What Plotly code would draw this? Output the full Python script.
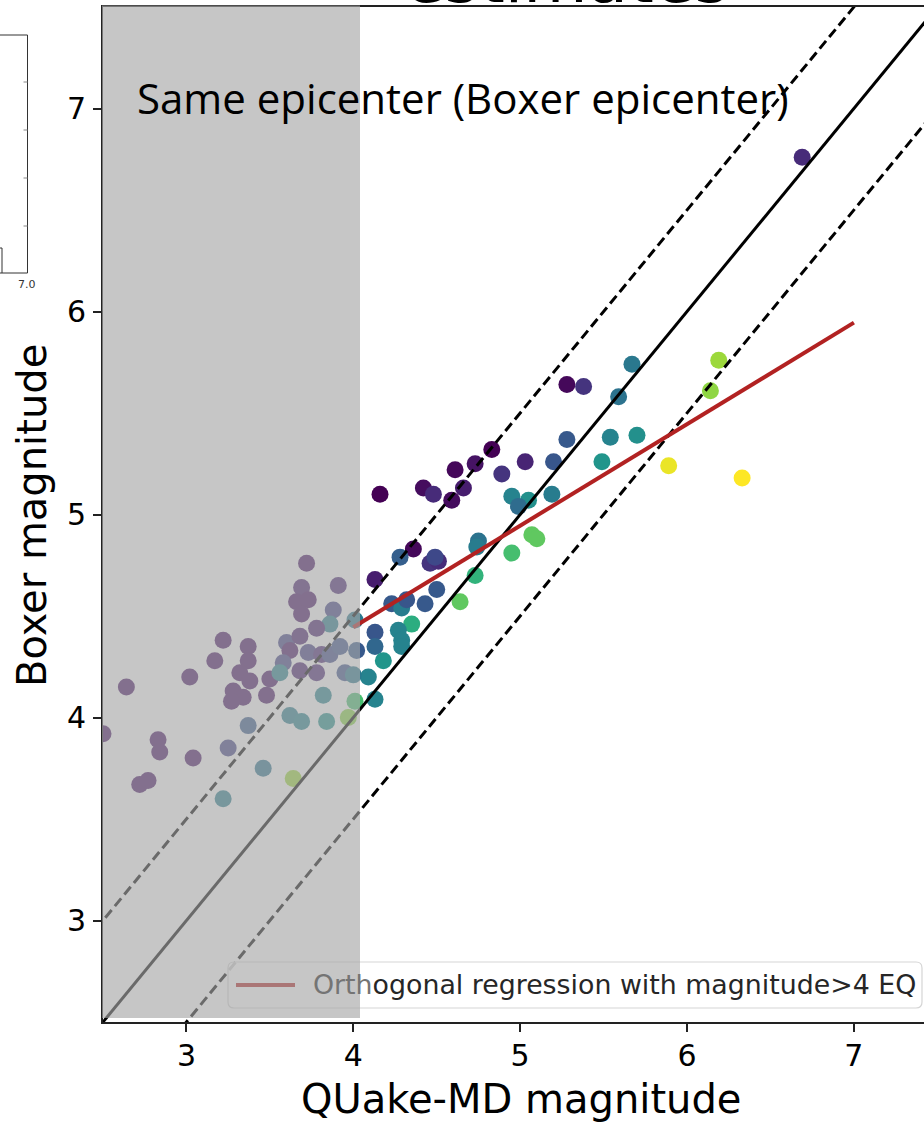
import plotly.graph_objects as go

# ---------------- data ----------------
quake_md = [
    5.67, 5.28, 5.38, 6.19, 5.59, 6.14, 5.28, 5.54, 5.70, 4.83, 4.73, 4.61, 5.03, 4.89,
    5.20, 5.49, 5.89, 6.33, 4.16, 4.42, 4.48, 4.66, 4.59, 4.95, 5.05, 4.99, 5.19, 5.07,
    5.10, 4.95, 4.75, 4.74, 4.36, 4.28, 4.46, 4.51, 4.49, 4.13, 4.73, 4.50, 4.64, 4.23,
    4.29, 4.32, 4.43, 4.35, 4.13, 4.27, 4.29, 4.29, 4.13, 4.18, 4.09, 4.13, 4.01, 6.69,
    3.72, 3.69, 3.91, 3.66, 3.73, 3.69, 3.88, 3.86, 3.78, 3.22, 3.37, 3.60, 3.68, 3.62,
    3.17, 3.37, 3.73, 3.81, 3.86, 3.92, 4.02, 3.58, 3.02, 3.32, 3.38, 3.50, 3.56, 3.68,
    3.78, 3.95, 4.00, 2.64, 3.28, 3.34, 3.27, 3.48, 3.82, 4.01, 3.62, 3.69, 3.84, 3.97,
    3.37, 2.50, 2.83, 2.84, 3.04, 3.25, 2.72, 2.77, 3.46, 3.64, 3.22,
]
boxer = [
    5.74, 5.64, 5.63, 5.76, 5.58, 5.61, 5.37, 5.38, 5.39, 5.32, 5.25, 5.22, 5.26, 5.20,
    5.26, 5.26, 5.24, 5.18, 5.10, 5.13, 5.10, 5.13, 5.07, 5.09, 5.07, 5.04, 5.10, 4.90,
    4.88, 4.81, 4.87, 4.84, 4.83, 4.79, 4.76, 4.77, 4.79, 4.68, 4.70, 4.63, 4.57, 4.56,
    4.54, 4.58, 4.56, 4.46, 4.42, 4.43, 4.38, 4.35, 4.35, 4.28, 4.20, 4.09, 4.48, 6.76,
    4.76, 4.64, 4.65, 4.57, 4.58, 4.51, 4.53, 4.46, 4.44, 4.38, 4.35, 4.37, 4.40, 4.33,
    4.28, 4.28, 4.32, 4.31, 4.31, 4.35, 4.33, 4.27, 4.20, 4.22, 4.18, 4.19, 4.22, 4.23,
    4.22, 4.22, 4.21, 4.15, 4.13, 4.10, 4.08, 4.11, 4.11, 4.08, 4.01, 3.98, 3.98, 4.00,
    3.96, 3.92, 3.89, 3.83, 3.80, 3.85, 3.67, 3.69, 3.75, 3.70, 3.60,
]
colour_val = [
    0.40, 0.02, 0.15, 0.85, 0.38, 0.83, 0.28, 0.45, 0.50, 0.00, 0.05, 0.02, 0.10, 0.15,
    0.27, 0.52, 0.97, 1.00, 0.00, 0.03, 0.12, 0.08, 0.03, 0.45, 0.50, 0.35, 0.42, 0.75,
    0.75, 0.70, 0.38, 0.42, 0.02, 0.30, 0.15, 0.12, 0.22, 0.08, 0.65, 0.28, 0.75, 0.28,
    0.42, 0.27, 0.28, 0.62, 0.27, 0.45, 0.45, 0.45, 0.33, 0.52, 0.45, 0.45, 0.40, 0.12,
    0.05, 0.08, 0.10, 0.05, 0.05, 0.05, 0.20, 0.42, 0.08, 0.05, 0.05, 0.20, 0.08, 0.05,
    0.05, 0.05, 0.18, 0.10, 0.22, 0.25, 0.28, 0.20, 0.05, 0.05, 0.05, 0.05, 0.45, 0.08,
    0.10, 0.25, 0.40, 0.05, 0.05, 0.05, 0.05, 0.05, 0.45, 0.70, 0.42, 0.45, 0.50, 0.82,
    0.28, 0.05, 0.05, 0.05, 0.05, 0.20, 0.05, 0.05, 0.38, 0.85, 0.42,
]

ref_x = [2.0, 8.0]             # 1:1 line and +/-0.5 bands
band_offsets = [0.5, -0.5]
regression_x = [4.0, 7.0]      # orthogonal regression (M > 4)
regression_y = [4.445, 5.945]

x_ticks = [3, 4, 5, 6, 7]
y_ticks = [3, 4, 5, 6, 7]
x_range = [2.5, 7.42]
y_range = [2.5, 7.5]

legend_label = "Orthogonal regression with magnitude>4 EQ"
x_title = "QUake-MD magnitude"
y_title = "Boxer magnitude"
panel_text = "Same epicenter (Boxer epicenter)"
title_text = "estimates"

# ---------------- layout helpers (pixel -> paper) ----------------
W, H = 924, 1124
L, R, T, B = 103, 0, 7, 102
PW, PH = W - L - R, H - T - B


def px(x):
    return (x - L) / PW


def py(y):
    return (H - B - y) / PH


FONT = "DejaVu Sans"
fig = go.Figure()

fig.add_trace(go.Scatter(
    x=quake_md, y=boxer, mode="markers", showlegend=False,
    marker=dict(size=17, color=colour_val, colorscale="Viridis", cmin=0, cmax=1,
                line=dict(width=0), opacity=1),
))

# reference lines
fig.add_trace(go.Scatter(x=ref_x, y=ref_x, mode="lines", showlegend=False,
                         line=dict(color="black", width=3)))
for off in band_offsets:
    fig.add_trace(go.Scatter(x=ref_x, y=[v + off for v in ref_x], mode="lines",
                             showlegend=False,
                             line=dict(color="black", width=3, dash="10px,5px")))

fig.add_trace(go.Scatter(x=regression_x, y=regression_y, mode="lines",
                         name=legend_label, showlegend=False,
                         line=dict(color="#b22222", width=4)))

shapes = []
# custom legend box (rounded) — drawn before the grey overlay so it gets covered
lx0, lx1, ly0, ly1, r = 228, 922, 962, 1008, 6
rx, ry = r / PW, r / PH
X0, X1, Y0, Y1 = px(lx0), px(lx1), py(ly1), py(ly0)
path = (f"M {X0+rx},{Y0} L {X1-rx},{Y0} Q {X1},{Y0} {X1},{Y0+ry} "
        f"L {X1},{Y1-ry} Q {X1},{Y1} {X1-rx},{Y1} L {X0+rx},{Y1} "
        f"Q {X0},{Y1} {X0},{Y1-ry} L {X0},{Y0+ry} Q {X0},{Y0} {X0+rx},{Y0} Z")
shapes.append(dict(type="path", path=path, xref="paper", yref="paper", layer="above",
                   fillcolor="rgba(255,255,255,0.8)", line=dict(color="#d5d5d5", width=1.2)))
shapes.append(dict(type="line", xref="paper", yref="paper", layer="above",
                   x0=px(236), x1=px(295), y0=py(985), y1=py(985),
                   line=dict(color="#b22222", width=4)))

# grey translucent overlay (covers spines, points, lines and legend)
shapes.append(dict(type="rect", xref="paper", yref="paper", layer="above",
                   x0=px(102), x1=px(360), y0=py(1018), y1=py(5.5),
                   fillcolor="rgba(166,166,166,0.64)", line=dict(width=0)))

# fragment of the neighbouring panel at the left
frag = dict(color="#333333", width=1)
shapes += [
    dict(type="line", xref="paper", yref="paper", x0=px(-2), x1=px(27.5), y0=py(35), y1=py(35), line=frag),
    dict(type="line", xref="paper", yref="paper", x0=px(27.5), x1=px(27.5), y0=py(35), y1=py(273), line=frag),
    dict(type="line", xref="paper", yref="paper", x0=px(-2), x1=px(27.5), y0=py(273), y1=py(273), line=frag),
    dict(type="line", xref="paper", yref="paper", x0=px(2), x1=px(2), y0=py(248), y1=py(273), line=frag),
    dict(type="line", xref="paper", yref="paper", x0=px(-2), x1=px(2), y0=py(248), y1=py(248), line=frag),
]
for ty in [82, 130, 178, 226]:
    shapes.append(dict(type="line", xref="paper", yref="paper", x0=px(23.5), x1=px(27.5),
                       y0=py(ty), y1=py(ty), line=dict(color="#888888", width=1)))

annotations = [
    dict(text=title_text, xref="paper", yref="paper", x=px(566), y=py(19.5),
         xanchor="center", yanchor="bottom", showarrow=False,
         font=dict(family=FONT, size=66, color="black")),
    dict(text=panel_text, xref="paper", yref="paper", x=px(135), y=py(98),
         xanchor="left", yanchor="middle", showarrow=False,
         font=dict(family="Open Sans", size=42, color="black")),
    dict(text=f"<span style='color:#747474'>Orth</span>{legend_label[4:]}",
         xref="paper", yref="paper", x=px(311), y=py(984), xanchor="left", yanchor="middle",
         showarrow=False, font=dict(family=FONT, size=26.8, color="#262626")),
    dict(text=x_title, xref="paper", yref="paper", x=px(521), y=py(1099),
         xanchor="center", yanchor="middle", showarrow=False,
         font=dict(family=FONT, size=40, color="black")),
    dict(text=y_title, xref="paper", yref="paper", x=px(32), y=py(516), textangle=-90,
         xanchor="center", yanchor="middle", showarrow=False,
         font=dict(family=FONT, size=40, color="black")),
    dict(text="7.0", xref="paper", yref="paper", x=px(27), y=py(284),
         xanchor="center", yanchor="middle", showarrow=False,
         font=dict(family=FONT, size=11, color="#333333")),
]

axis_common = dict(showgrid=False, zeroline=False, showline=True, linecolor="#222222",
                   linewidth=2, ticks="outside", ticklen=8, tickwidth=2, tickcolor="#222222",
                   tickfont=dict(family=FONT, size=30, color="black"))

fig.update_layout(
    width=W, height=H, autosize=False,
    margin=dict(l=L, r=R, t=T, b=B, pad=0),
    paper_bgcolor="white", plot_bgcolor="white",
    xaxis=dict(range=x_range, tickvals=x_ticks, mirror=True, ticklabelstandoff=-2, **axis_common),
    yaxis=dict(range=y_range, tickvals=y_ticks, mirror=False, ticklabelstandoff=1, **axis_common),
    shapes=shapes, annotations=annotations, showlegend=False,
)

fig.write_html("out.html", config={"displayModeBar": False},
               post_script="document.body.style.margin='0';document.body.style.overflow='hidden';")
